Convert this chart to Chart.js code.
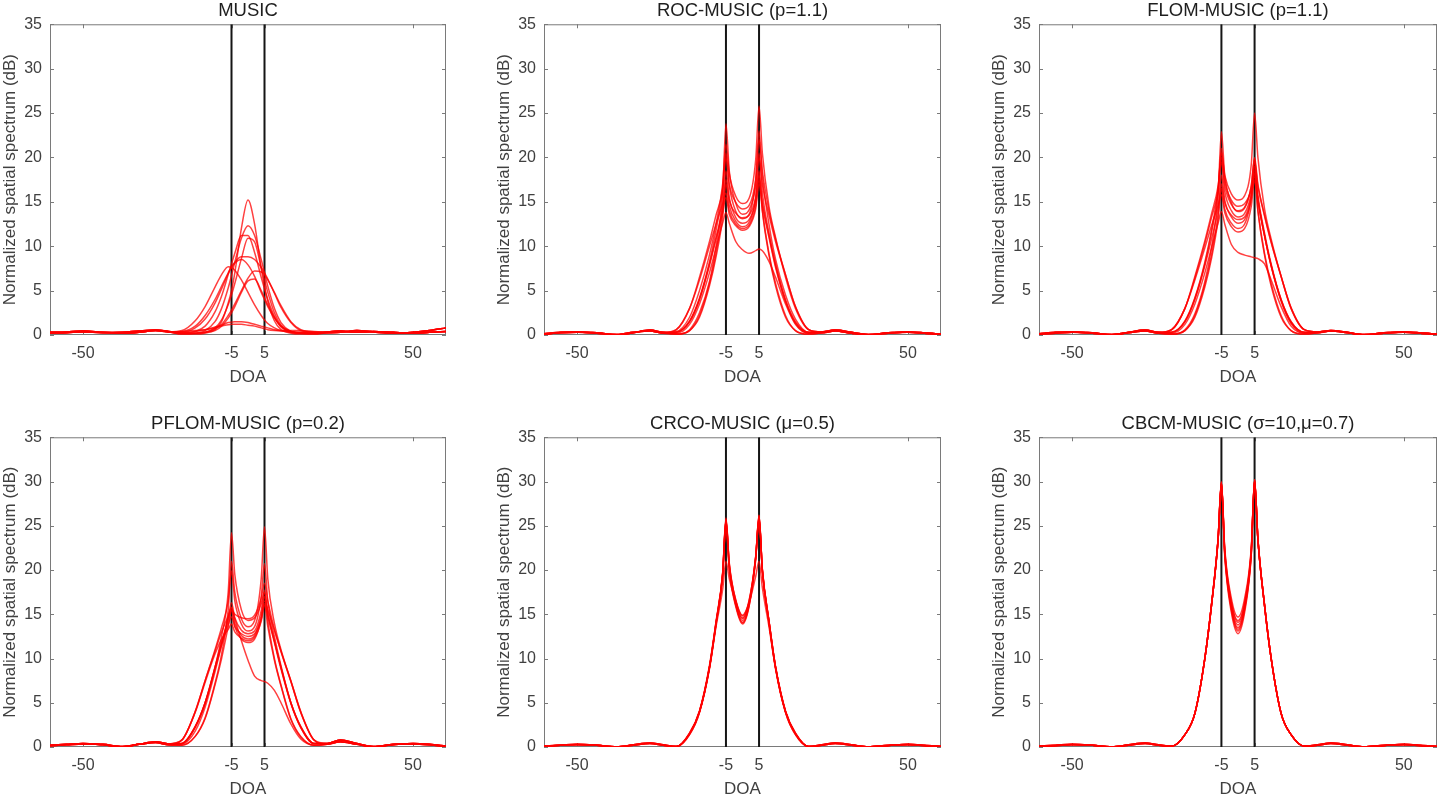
<!DOCTYPE html>
<html>
<head>
<meta charset="utf-8">
<title>DOA spectra</title>
<script src="https://cdn.jsdelivr.net/npm/chart.js@4.4.1/dist/chart.umd.min.js"></script>
<style>
  html, body { margin: 0; padding: 0; background: #fff; overflow: hidden; }
  canvas { position: absolute; }
</style>
</head>
<body>
<canvas id="c1"></canvas>
<canvas id="c2"></canvas>
<canvas id="c3"></canvas>
<canvas id="c4"></canvas>
<canvas id="c5"></canvas>
<canvas id="c6"></canvas>
<script>
// x samples (DOA, degrees): outer sidelobe parts and the main-lobe part
var doaSideL = [-60, -55, -50, -44, -38, -33, -28, -24];
var doaCenter = [-20, -16, -13, -10, -8, -6, -5, -4, -2, 0, 2, 4, 5, 6, 8, 10, 13, 16, 20];
var doaSideR = [24, 28, 33, 38, 44, 50, 55, 60];
var trueDoa = [-5, 5];
var xTicks = [-50, -5, 5, 50];
var yTicks = [0, 5, 10, 15, 20, 25, 30, 35];

// MUSIC
var musicSideL = [[0.3, 0.35, 0.45, 0.3, 0.2, 0.3, 0.5, 0.35], [0.2, 0.25, 0.35, 0.25, 0.3, 0.45, 0.55, 0.4]];
var musicSideR = [[0.35, 0.45, 0.3, 0.4, 0.3, 0.2, 0.3, 0.4], [0.25, 0.3, 0.5, 0.35, 0.2, 0.3, 0.5, 0.8]];
var musicCurves = [
  [0.1, 0.1, 0.2, 0.6, 1.5, 3.6, 5.0, 7.0, 12.0, 15.2, 12.5, 7.5, 5.5, 3.8, 1.6, 0.6, 0.2, 0.1, 0.1],
  [0.1, 0.2, 0.5, 1.5, 3.0, 5.3, 6.7, 8.2, 10.9, 12.3, 11.2, 8.5, 7.0, 5.5, 3.0, 1.4, 0.4, 0.2, 0.1],
  [0.2, 0.4, 1.0, 2.6, 4.4, 6.8, 8.0, 9.2, 11.2, 11.2, 9.3, 6.5, 5.2, 4.0, 2.1, 0.9, 0.3, 0.2, 0.2],
  [0.2, 0.2, 0.3, 0.8, 1.7, 3.4, 4.5, 5.8, 8.6, 10.9, 10.5, 7.6, 6.2, 4.8, 2.5, 1.1, 0.3, 0.2, 0.2],
  [0.4, 1.0, 2.2, 4.0, 5.5, 7.0, 7.7, 8.2, 8.8, 8.8, 8.5, 7.6, 7.0, 6.3, 4.7, 3.1, 1.4, 0.5, 0.3],
  [0.3, 0.8, 1.8, 3.6, 5.2, 6.9, 7.6, 8.1, 8.5, 7.9, 6.6, 4.8, 4.0, 3.2, 1.9, 1.0, 0.4, 0.2, 0.2],
  [0.5, 1.6, 3.2, 5.4, 6.8, 7.7, 7.6, 7.3, 6.2, 4.8, 3.4, 2.2, 1.7, 1.3, 0.8, 0.5, 0.3, 0.3, 0.3],
  [0.2, 0.2, 0.3, 0.7, 1.2, 2.2, 2.8, 3.5, 5.0, 6.4, 7.2, 7.1, 6.8, 6.2, 4.8, 3.3, 1.5, 0.6, 0.3],
  [0.2, 0.2, 0.3, 0.5, 1.0, 1.9, 2.5, 3.2, 4.8, 6.1, 6.3, 5.0, 4.2, 3.4, 2.0, 1.0, 0.4, 0.2, 0.2],
  [0.3, 0.4, 0.6, 0.9, 1.1, 1.4, 1.45, 1.5, 1.5, 1.4, 1.2, 1.0, 0.9, 0.8, 0.6, 0.5, 0.4, 0.3, 0.3],
  [0.4, 0.5, 0.6, 0.8, 1.0, 1.15, 1.2, 1.2, 1.2, 1.1, 1.0, 0.8, 0.7, 0.6, 0.5, 0.45, 0.5, 0.5, 0.4]
];

// ROC-MUSIC (p=1.1)
var rocSideL = [[0.15, 0.3, 0.35, 0.2, 0.03, 0.25, 0.55, 0.3], [0.1, 0.25, 0.3, 0.25, 0.05, 0.3, 0.45, 0.2]];
var rocSideR = [[0.35, 0.55, 0.3, 0.03, 0.2, 0.35, 0.25, 0.1], [0.25, 0.45, 0.2, 0.05, 0.25, 0.3, 0.2, 0.05]];
var rocCurves = [
  [0.4, 2.0, 5.0, 9.0, 12.5, 17.0, 21.5, 18.2, 15.6, 14.8, 15.4, 19.8, 25.8, 20.5, 14.5, 11.0, 6.5, 3.0, 0.6],
  [0.1, 0.6, 2.5, 6.0, 10.0, 16.0, 23.8, 18.5, 14.8, 13.6, 14.1, 16.8, 20.5, 16.0, 11.5, 8.0, 4.0, 1.5, 0.3],
  [0.6, 3.0, 6.5, 10.5, 13.5, 16.5, 20.5, 16.8, 13.9, 13.1, 13.6, 17.5, 23.0, 18.0, 12.5, 8.5, 4.5, 1.8, 0.3],
  [0.3, 1.5, 4.0, 8.0, 11.0, 14.5, 18.5, 15.5, 13.2, 12.6, 13.0, 15.2, 18.5, 14.0, 9.0, 5.5, 2.0, 0.5, 0.1],
  [0.1, 0.5, 2.0, 5.5, 8.8, 13.2, 17.0, 14.6, 12.8, 12.2, 12.7, 15.5, 20.0, 17.0, 13.5, 10.5, 6.8, 3.2, 0.6],
  [0.6, 3.0, 6.2, 10.0, 12.5, 14.8, 16.0, 14.0, 12.5, 12.0, 12.4, 14.6, 17.5, 14.0, 9.2, 5.8, 2.2, 0.5, 0.1],
  [0.3, 1.5, 4.0, 7.8, 10.8, 13.8, 15.5, 13.6, 12.3, 11.8, 12.2, 14.2, 17.0, 14.6, 11.0, 7.6, 3.8, 1.4, 0.3],
  [0.3, 1.6, 4.2, 8.2, 11.8, 16.2, 20.0, 17.0, 14.9, 14.2, 14.6, 17.6, 22.0, 18.5, 14.0, 10.8, 6.8, 3.2, 0.6],
  [0.1, 0.5, 2.2, 5.8, 9.2, 14.0, 17.5, 15.2, 13.7, 13.2, 13.5, 15.5, 18.0, 15.0, 11.2, 7.8, 3.8, 1.3, 0.2],
  [0.2, 1.2, 3.5, 7.0, 9.8, 12.6, 13.8, 12.6, 10.5, 9.6, 9.2, 9.5, 9.7, 9.5, 8.3, 6.5, 3.5, 1.2, 0.2]
];

// FLOM-MUSIC (p=1.1)
var flomSideL = [[0.15, 0.3, 0.35, 0.2, 0.03, 0.3, 0.55, 0.3], [0.1, 0.2, 0.3, 0.25, 0.05, 0.25, 0.45, 0.2]];
var flomSideR = [[0.35, 0.5, 0.3, 0.03, 0.2, 0.35, 0.25, 0.1], [0.25, 0.45, 0.25, 0.05, 0.25, 0.3, 0.2, 0.05]];
var flomCurves = [
  [0.3, 1.6, 4.2, 8.2, 11.8, 16.5, 20.5, 18.0, 15.9, 15.2, 15.7, 19.2, 25.0, 20.0, 14.2, 10.8, 6.6, 3.0, 0.6],
  [0.1, 0.6, 2.4, 6.0, 9.8, 15.8, 22.9, 18.0, 14.9, 13.9, 14.3, 16.8, 19.9, 15.8, 11.5, 8.0, 4.0, 1.5, 0.3],
  [0.6, 3.0, 6.4, 10.3, 13.2, 16.2, 19.5, 16.2, 14.0, 13.3, 13.7, 16.0, 19.0, 15.3, 11.2, 7.8, 4.0, 1.5, 0.3],
  [0.3, 1.5, 4.0, 7.8, 10.8, 14.3, 18.0, 15.2, 13.3, 12.6, 13.0, 15.3, 18.5, 14.0, 9.0, 5.5, 2.0, 0.5, 0.1],
  [0.1, 0.5, 2.0, 5.4, 8.6, 13.0, 16.5, 14.2, 12.6, 12.0, 12.5, 15.5, 19.5, 16.8, 13.4, 10.4, 6.6, 3.1, 0.6],
  [0.6, 3.0, 6.2, 9.8, 12.3, 14.6, 15.8, 13.8, 12.2, 11.6, 12.0, 14.5, 17.5, 14.0, 9.2, 5.8, 2.2, 0.5, 0.1],
  [0.3, 1.5, 4.1, 8.0, 11.5, 16.0, 21.0, 17.5, 15.2, 14.5, 14.8, 16.3, 17.8, 15.2, 11.2, 7.8, 3.9, 1.4, 0.3],
  [0.1, 0.5, 2.2, 5.7, 9.0, 13.6, 17.0, 14.9, 13.5, 13.0, 13.3, 15.6, 18.2, 15.2, 11.2, 7.8, 3.8, 1.3, 0.2],
  [0.6, 3.0, 6.6, 10.6, 13.6, 16.8, 20.0, 16.9, 14.7, 14.0, 14.4, 16.8, 20.0, 17.0, 13.5, 10.5, 6.6, 3.0, 0.6],
  [0.2, 1.2, 3.5, 7.0, 9.8, 12.6, 13.9, 12.5, 10.2, 9.3, 9.0, 8.8, 8.7, 8.6, 8.0, 6.2, 3.2, 1.0, 0.2]
];

// PFLOM-MUSIC (p=0.2)
var pflomSideL = [[0.2, 0.3, 0.4, 0.25, 0.03, 0.3, 0.6, 0.35], [0.15, 0.25, 0.35, 0.3, 0.05, 0.3, 0.5, 0.25]];
var pflomSideR = [[0.4, 0.8, 0.4, 0.05, 0.25, 0.4, 0.3, 0.1], [0.3, 0.6, 0.3, 0.03, 0.3, 0.35, 0.25, 0.05]];
var pflomCurves = [
  [0.4, 2.3, 5.0, 9.0, 12.5, 17.5, 24.2, 19.5, 15.5, 14.3, 14.6, 16.2, 17.5, 15.3, 12.0, 9.0, 5.0, 2.2, 0.4],
  [0.2, 1.2, 3.3, 7.2, 10.5, 15.5, 21.0, 17.5, 14.5, 13.6, 14.3, 19.0, 24.9, 19.0, 14.0, 11.0, 7.5, 4.0, 0.8],
  [0.8, 4.0, 7.5, 11.0, 13.5, 16.5, 19.9, 16.5, 13.9, 13.1, 13.6, 17.0, 20.7, 16.5, 12.5, 9.2, 5.0, 2.3, 0.4],
  [0.4, 2.3, 5.0, 9.0, 11.8, 14.6, 16.3, 14.6, 13.2, 12.8, 13.1, 15.4, 17.7, 14.3, 10.0, 7.0, 3.2, 1.2, 0.2],
  [0.8, 4.0, 7.5, 10.8, 13.0, 14.8, 15.8, 14.0, 12.6, 12.2, 12.6, 14.8, 17.0, 15.0, 12.0, 9.0, 5.0, 2.3, 0.4],
  [0.2, 1.2, 3.2, 7.0, 10.0, 13.6, 15.4, 13.6, 12.2, 11.8, 12.2, 14.4, 16.5, 15.5, 13.2, 10.8, 7.4, 3.9, 0.8],
  [0.4, 2.2, 4.9, 8.8, 11.5, 13.8, 14.7, 13.6, 12.8, 12.5, 12.8, 14.5, 16.2, 14.7, 11.8, 8.8, 4.9, 2.2, 0.4],
  [0.8, 3.9, 7.3, 10.5, 12.2, 13.3, 13.9, 13.0, 12.3, 12.0, 12.4, 14.2, 16.0, 13.6, 9.8, 6.9, 3.1, 1.1, 0.2],
  [0.4, 2.3, 5.0, 9.0, 11.8, 14.2, 15.5, 15.0, 14.6, 14.5, 14.9, 16.8, 18.5, 16.5, 13.3, 10.8, 7.4, 3.9, 0.8],
  [0.3, 1.8, 4.5, 8.5, 11.5, 14.6, 15.7, 14.5, 12.0, 9.8, 8.0, 7.5, 7.4, 7.2, 6.4, 5.0, 2.6, 0.9, 0.2]
];

// CRCO-MUSIC (mu=0.5)
var crcoSideL = [[0.1, 0.2, 0.3, 0.2, 0.02, 0.25, 0.45, 0.25], [0.1, 0.2, 0.25, 0.2, 0.03, 0.2, 0.4, 0.2]];
var crcoSideR = [[0.25, 0.45, 0.25, 0.02, 0.15, 0.3, 0.2, 0.05], [0.2, 0.4, 0.2, 0.03, 0.2, 0.25, 0.15, 0.05]];
var crcoCurves = [
  [0.05, 1.5, 4.0, 9.0, 14.0, 19.5, 25.7, 20.5, 16.2, 14.3, 16.2, 21.5, 26.2, 20.0, 14.2, 9.0, 4.0, 1.5, 0.05],
  [0.05, 1.4, 3.9, 8.8, 13.8, 19.3, 25.5, 20.2, 16.0, 14.0, 16.0, 21.2, 26.0, 19.8, 14.0, 8.8, 3.9, 1.4, 0.05],
  [0.05, 1.6, 4.1, 9.2, 14.2, 19.7, 25.9, 20.8, 16.5, 14.6, 16.5, 21.6, 25.8, 20.1, 14.3, 9.1, 4.1, 1.6, 0.05],
  [0.05, 1.5, 4.0, 8.9, 13.6, 17.8, 21.0, 19.0, 16.4, 14.8, 16.6, 21.4, 25.8, 20.0, 14.2, 9.0, 4.0, 1.5, 0.05],
  [0.05, 1.5, 4.0, 9.0, 14.0, 19.6, 25.6, 20.6, 16.6, 14.9, 16.3, 19.3, 21.0, 18.0, 13.6, 8.9, 4.0, 1.5, 0.05],
  [0.05, 1.4, 3.9, 8.9, 13.9, 19.4, 25.3, 20.0, 15.8, 13.9, 15.9, 21.3, 26.1, 19.9, 14.1, 8.9, 3.9, 1.4, 0.05],
  [0.05, 1.5, 4.0, 9.0, 14.1, 19.6, 25.8, 20.7, 16.4, 14.5, 16.4, 21.5, 25.9, 20.0, 14.2, 9.0, 4.0, 1.5, 0.05],
  [0.05, 1.5, 4.0, 9.0, 14.0, 19.5, 25.6, 20.3, 16.0, 14.1, 16.1, 21.5, 26.2, 20.0, 14.2, 9.0, 4.0, 1.5, 0.05]
];

// CBCM-MUSIC (sigma=10, mu=0.7)
var cbcmSideL = [[0.1, 0.2, 0.3, 0.2, 0.02, 0.25, 0.45, 0.25], [0.1, 0.15, 0.25, 0.2, 0.03, 0.2, 0.4, 0.2]];
var cbcmSideR = [[0.25, 0.45, 0.25, 0.02, 0.15, 0.3, 0.2, 0.05], [0.2, 0.4, 0.2, 0.03, 0.2, 0.25, 0.15, 0.05]];
var cbcmCurves = [
  [0.1, 1.4, 3.8, 10.0, 16.0, 23.5, 29.9, 22.0, 15.8, 13.5, 15.8, 22.0, 30.2, 23.5, 16.0, 10.0, 3.8, 1.4, 0.1],
  [0.1, 1.4, 3.8, 10.0, 16.0, 23.4, 29.7, 21.6, 15.2, 12.8, 15.2, 21.7, 30.0, 23.4, 16.0, 10.0, 3.8, 1.4, 0.1],
  [0.1, 1.4, 3.8, 10.0, 16.0, 23.5, 29.8, 22.2, 16.3, 14.1, 16.2, 22.2, 30.1, 23.5, 16.0, 10.0, 3.8, 1.4, 0.1],
  [0.1, 1.4, 3.8, 10.0, 16.1, 23.6, 30.0, 22.5, 16.8, 14.7, 16.8, 22.5, 30.2, 23.6, 16.1, 10.0, 3.8, 1.4, 0.1],
  [0.1, 1.4, 3.8, 10.0, 16.0, 23.4, 29.8, 21.8, 15.5, 13.1, 15.5, 21.8, 30.1, 23.4, 16.0, 10.0, 3.8, 1.4, 0.1],
  [0.1, 1.4, 3.8, 10.0, 16.0, 23.5, 29.9, 22.1, 16.0, 13.8, 16.0, 22.1, 30.2, 23.5, 16.0, 10.0, 3.8, 1.4, 0.1],
  [0.1, 1.4, 3.8, 10.0, 16.0, 23.5, 29.9, 21.9, 15.7, 13.3, 15.7, 21.9, 30.1, 23.5, 16.0, 10.0, 3.8, 1.4, 0.1],
  [0.1, 1.4, 3.8, 10.0, 16.0, 23.5, 29.9, 22.3, 16.4, 14.3, 16.4, 22.3, 30.2, 23.5, 16.0, 10.0, 3.8, 1.4, 0.1]
];

// plot areas in page pixels
var panels = [
  {id: 'c1', title: 'MUSIC', curves: musicCurves, sideL: musicSideL, sideR: musicSideR, left: 50, top: 24, w: 396, h: 311},
  {id: 'c2', title: 'ROC-MUSIC (p=1.1)', curves: rocCurves, sideL: rocSideL, sideR: rocSideR, left: 544, top: 24, w: 397, h: 311},
  {id: 'c3', title: 'FLOM-MUSIC (p=1.1)', curves: flomCurves, sideL: flomSideL, sideR: flomSideR, left: 1039, top: 24, w: 398, h: 311},
  {id: 'c4', title: 'PFLOM-MUSIC (p=0.2)', curves: pflomCurves, sideL: pflomSideL, sideR: pflomSideR, left: 50, top: 437, w: 396, h: 310},
  {id: 'c5', title: 'CRCO-MUSIC (\u03bc=0.5)', curves: crcoCurves, sideL: crcoSideL, sideR: crcoSideR, left: 544, top: 437, w: 397, h: 310},
  {id: 'c6', title: 'CBCM-MUSIC (\u03c3=10,\u03bc=0.7)', curves: cbcmCurves, sideL: cbcmSideL, sideR: cbcmSideR, left: 1039, top: 437, w: 398, h: 310}
];

var FONT = '"Liberation Sans", Arial, Helvetica, sans-serif';
var TEXT = '#404040';
var AXIS = '#7a7a7a';
var Y_AXIS_W = 50, X_AXIS_H = 53, TITLE_H = 24, PAD_R = 3;

function toPoints(xs, ys) {
    return xs.map(function (x, i) { return {x: x, y: ys[i]}; });
}

// MATLAB-like box with inward ticks on all four sides
var axesBox = {
    id: 'axesBox',
    beforeDatasetsDraw: function (chart) {
        var ctx = chart.ctx, a = chart.chartArea;
        var sx = chart.scales.x, sy = chart.scales.y;
        ctx.save();
        ctx.strokeStyle = AXIS;
        ctx.lineWidth = 1;
        ctx.strokeRect(a.left + 0.5, a.top + 0.5, a.right - a.left - 1, a.bottom - a.top - 1);
        ctx.beginPath();
        xTicks.forEach(function (v) {
            var px = Math.round(sx.getPixelForValue(v)) + 0.5;
            ctx.moveTo(px, a.bottom); ctx.lineTo(px, a.bottom - 4);
            ctx.moveTo(px, a.top); ctx.lineTo(px, a.top + 4);
        });
        yTicks.forEach(function (v) {
            var py = Math.round(sy.getPixelForValue(v)) + 0.5;
            ctx.moveTo(a.left, py); ctx.lineTo(a.left + 4, py);
            ctx.moveTo(a.right, py); ctx.lineTo(a.right - 4, py);
        });
        ctx.stroke();
        ctx.restore();
    }
};

panels.forEach(function (p) {
    var canvas = document.getElementById(p.id);
    var cw = Y_AXIS_W + p.w + PAD_R;
    var ch = TITLE_H + p.h + X_AXIS_H;
    canvas.width = cw;
    canvas.height = ch;
    canvas.style.left = (p.left - Y_AXIS_W) + 'px';
    canvas.style.top = (p.top - TITLE_H) + 'px';
    canvas.style.width = cw + 'px';
    canvas.style.height = ch + 'px';

    var datasets = [];
    p.curves.forEach(function (c, i) {
        var k = i % 2;
        var pts = toPoints(doaSideL, p.sideL[k])
            .concat(toPoints(doaCenter, c))
            .concat(toPoints(doaSideR, p.sideR[k]));
        datasets.push({
            data: pts,
            borderColor: 'rgba(255,0,0,0.75)',
            borderWidth: 1.5,
            pointRadius: 0,
            cubicInterpolationMode: 'monotone',
            order: 0
        });
    });
    // true source directions, drawn underneath the spectra
    trueDoa.forEach(function (d) {
        datasets.push({
            data: [{x: d, y: 0}, {x: d, y: 35}],
            borderColor: '#151515',
            borderWidth: 2,
            pointRadius: 0,
            order: 1
        });
    });

    new Chart(canvas, {
        type: 'line',
        data: {datasets: datasets},
        options: {
            responsive: false,
            animation: false,
            layout: {padding: {left: 0, right: PAD_R, top: 0, bottom: 0}},
            plugins: {
                legend: {display: false},
                tooltip: {enabled: false},
                title: {
                    display: true,
                    fullSize: false,
                    text: p.title,
                    color: '#1e1e1e',
                    font: {family: FONT, size: 18.5, weight: 'normal', lineHeight: 1.15},
                    padding: {top: 0, bottom: 3}
                }
            },
            scales: {
                x: {
                    type: 'linear',
                    min: -60,
                    max: 60,
                    afterBuildTicks: function (s) { s.ticks = xTicks.map(function (v) { return {value: v}; }); },
                    afterFit: function (s) { s.height = X_AXIS_H; },
                    grid: {display: false, drawTicks: false},
                    border: {display: false},
                    ticks: {color: TEXT, font: {family: FONT, size: 16}, padding: 9, maxRotation: 0, autoSkip: false},
                    title: {display: true, text: 'DOA', color: TEXT, font: {family: FONT, size: 17}, padding: 0}
                },
                y: {
                    min: 0,
                    max: 35,
                    afterBuildTicks: function (s) { s.ticks = yTicks.map(function (v) { return {value: v}; }); },
                    afterFit: function (s) { s.width = Y_AXIS_W; },
                    grid: {display: false, drawTicks: false},
                    border: {display: false},
                    ticks: {color: TEXT, font: {family: FONT, size: 16}, padding: 8},
                    title: {display: true, text: 'Normalized spatial spectrum (dB)', color: TEXT, font: {family: FONT, size: 17}, padding: 0}
                }
            }
        },
        plugins: [axesBox]
    });
});
</script>
</body>
</html>
